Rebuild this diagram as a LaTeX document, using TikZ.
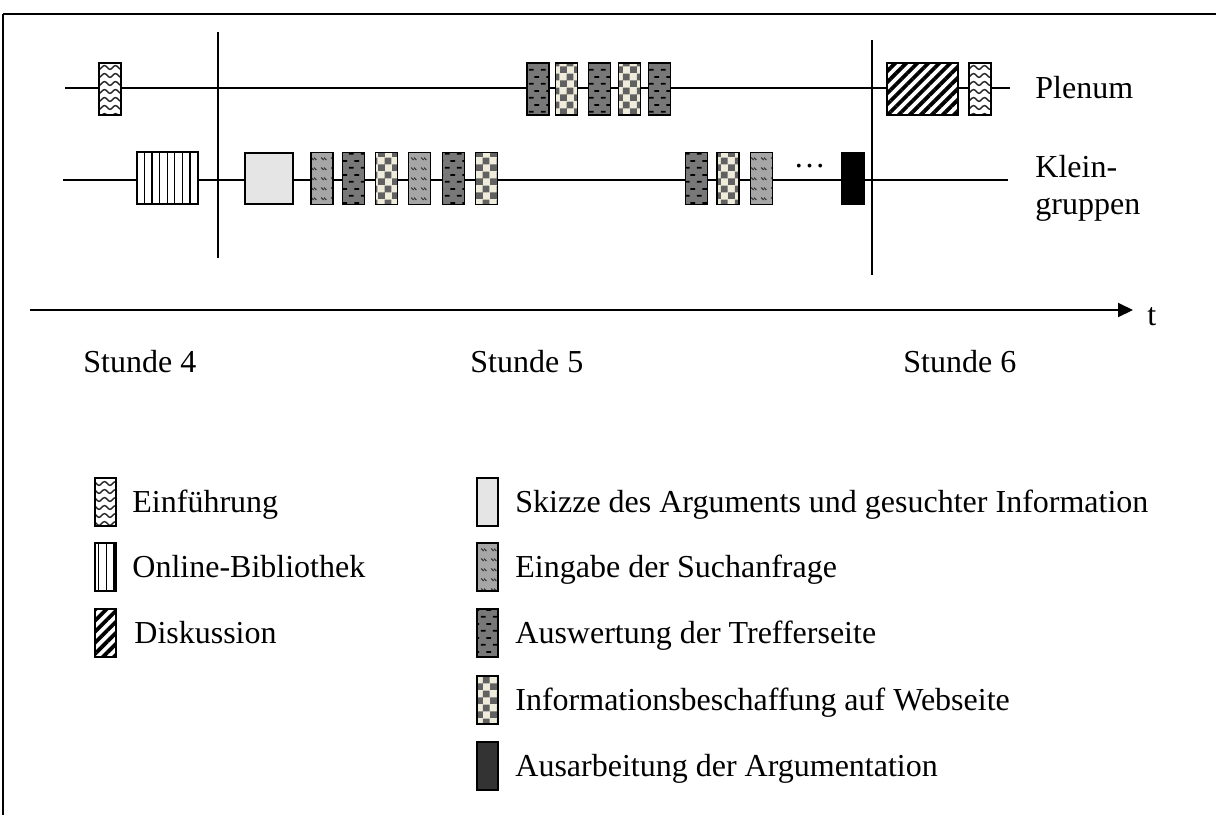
\documentclass[tikz,border=0pt]{standalone}
\usepackage{fontspec}
\setmainfont{Liberation Serif}
\usetikzlibrary{arrows.meta,patterns,patterns.meta}

\definecolor{checklight}{HTML}{F0ECDC}

% wavy lines for Einfuehrung
\pgfdeclarepatternformonly{einfwave}{\pgfqpoint{-1pt}{-1pt}}{\pgfqpoint{6.5pt}{5pt}}{\pgfqpoint{5.5pt}{4pt}}{%
  \pgfsetlinewidth{0.7pt}
  \pgfpathmoveto{\pgfqpoint{0pt}{0.8pt}}
  \pgfpathcurveto{\pgfqpoint{1pt}{0.8pt}}{\pgfqpoint{1.7pt}{2.7pt}}{\pgfqpoint{2.75pt}{2.7pt}}
  \pgfpathcurveto{\pgfqpoint{3.8pt}{2.7pt}}{\pgfqpoint{4.5pt}{0.8pt}}{\pgfqpoint{5.5pt}{0.8pt}}
  \pgfusepath{stroke}}
% checkerboard for Informationsbeschaffung
\pgfdeclarepatternformonly{infocheck}{\pgfqpoint{0pt}{0pt}}{\pgfqpoint{7pt}{7pt}}{\pgfqpoint{7pt}{7pt}}{%
  \pgfpathrectangle{\pgfqpoint{0pt}{0pt}}{\pgfqpoint{3.55pt}{3.55pt}}
  \pgfpathrectangle{\pgfqpoint{3.5pt}{3.5pt}}{\pgfqpoint{3.55pt}{3.55pt}}
  \pgfusepath{fill}}
% short dashes for Auswertung
\pgfdeclarepatternformonly{auswdash}{\pgfqpoint{0pt}{0pt}}{\pgfqpoint{6pt}{7pt}}{\pgfqpoint{6pt}{7pt}}{%
  \pgfsetlinewidth{0.9pt}
  \pgfpathmoveto{\pgfqpoint{0.4pt}{1.75pt}}\pgfpathlineto{\pgfqpoint{2.9pt}{1.75pt}}
  \pgfpathmoveto{\pgfqpoint{3.3pt}{5.25pt}}\pgfpathlineto{\pgfqpoint{5.8pt}{5.25pt}}
  \pgfusepath{stroke}}
% slanted dashes for Eingabe
\pgfdeclarepatternformonly{eingdash}{\pgfqpoint{0pt}{0pt}}{\pgfqpoint{5pt}{5pt}}{\pgfqpoint{5pt}{5pt}}{%
  \pgfsetlinewidth{0.55pt}
  \pgfpathmoveto{\pgfqpoint{0.6pt}{4pt}}\pgfpathlineto{\pgfqpoint{1.9pt}{2.7pt}}
  \pgfpathmoveto{\pgfqpoint{2.1pt}{4pt}}\pgfpathlineto{\pgfqpoint{3.4pt}{2.7pt}}
  \pgfusepath{stroke}}

\tikzset{
  box/.style={draw, line width=0.8pt, inner sep=0pt, minimum width=11pt, minimum height=26pt},
  legbox/.style={box, minimum width=10.5pt, minimum height=24pt},
  einf/.style={preaction={fill=white}, pattern=einfwave, pattern color=black!85},
  bibl/.style={preaction={fill=white}, pattern={Lines[angle=90,distance=3.8pt,line width=0.6pt]}},
  disk/.style={preaction={fill=white}, pattern={Lines[angle=45,distance=3.9pt,line width=1.9pt]}},
  skizze/.style={fill=gray!20},
  eing/.style={preaction={fill=black!35}, pattern=eingdash, pattern color=black!80},
  ausw/.style={preaction={fill=black!53}, pattern=auswdash, pattern color=black},
  info/.style={preaction={fill=checklight}, pattern=infocheck, pattern color=black!62},
  label/.style={anchor=base west, inner sep=0pt}
}

\begin{document}
\begin{tikzpicture}[x=0.5pt, y=-0.5pt, font=\fontsize{16}{18.5}\selectfont]
  \useasboundingbox (0,0) rectangle (1216,815);
  % frame
  \coordinate (fr0) at (3,14);
  \coordinate (fr1) at (1216,14);
  \coordinate (fr2) at (3,815);
  \draw[line width=1.1pt] (fr0) -- (fr1);
  \draw[line width=0.8pt] (fr0) -- (fr2);

  % time lines and breaks between the hours
  \coordinate (pl0) at (65,88);   \coordinate (pl1) at (1010,88);
  \coordinate (kg0) at (63,180);  \coordinate (kg1) at (1008,180);
  \coordinate (v1a) at (218,32);  \coordinate (v1b) at (218,258);
  \coordinate (v2a) at (872,40);  \coordinate (v2b) at (872,275);
  \draw[line width=1.3pt] (pl0) -- (pl1);
  \draw[line width=1.3pt] (kg0) -- (kg1);
  \draw[line width=1pt] (v1a) -- (v1b);
  \draw[line width=1pt] (v2a) -- (v2b);

  % Plenum
  \node[box, einf] (pe1) at (110,89) {};
  \node[box, ausw] (pa1) at (538,89) {};
  \node[box, info] (pi1) at (566.5,89) {};
  \node[box, ausw] (pa2) at (599.5,89) {};
  \node[box, info] (pi2) at (629.5,89) {};
  \node[box, ausw] (pa3) at (659.5,89) {};
  \node[box, disk, minimum width=35.5pt] (pd1) at (922.5,89) {};
  \node[box, einf] (pe2) at (980,89) {};
  \node[label] (plenum) at (1035,98) {Plenum};

  % Kleingruppen
  \node[box, bibl, minimum width=30.5pt] (kb1) at (167.5,178) {};
  \node[box, skizze, minimum width=24pt, minimum height=25.5pt] (ks1) at (269,178.5) {};
  \node[box, eing] (kg1) at (322,178.5) {};
  \node[box, ausw] (ka1) at (353.5,178.5) {};
  \node[box, info] (ki1) at (386.5,178.5) {};
  \node[box, eing] (kg2) at (419.5,178.5) {};
  \node[box, ausw] (ka2) at (453.5,178.5) {};
  \node[box, info] (ki2) at (486.5,178.5) {};
  \node[box, ausw] (ka3) at (696.5,178.5) {};
  \node[box, info] (ki3) at (728,178.5) {};
  \node[box, eing] (kg3) at (761.5,178.5) {};
  \node[anchor=base, inner sep=0pt] (dots) at (809.5,167) {…};
  \node[box, fill=black] (kr1) at (853,178.5) {};
  \node[label] (klein) at (1035,177) {Klein-};
  \node[label] (gruppen) at (1035,214) {gruppen};

  % time axis
  \coordinate (ax0) at (30,310);
  \coordinate (ax1) at (1133,310);
  \draw[line width=1pt, -{Triangle[length=7.5pt,width=7pt]}] (ax0) -- (ax1);
  \node[label] (t) at (1147,325) {t};
  \node[label] (st4) at (83,372) {Stunde 4};
  \node[label] (st5) at (470,372) {Stunde 5};
  \node[label] (st6) at (903,372) {Stunde 6};

  % legend, left column
  \node[legbox, einf] (le1) at (105.5,502) {};
  \node[legbox, bibl] (le2) at (105.5,567) {};
  \node[legbox, disk] (le3) at (105.5,633) {};
  \node[label] at (132,512) {Einführung};
  \node[label] at (132,577) {Online-Bibliothek};
  \node[label] at (134,643) {Diskussion};

  % legend, right column
  \node[legbox, skizze] (lr1) at (487.5,502) {};
  \node[legbox, eing] (lr2) at (487.5,567) {};
  \node[legbox, ausw] (lr3) at (487.5,633) {};
  \node[legbox, info] (lr4) at (487.5,700) {};
  \node[legbox, fill=black!80] (lr5) at (487.5,766) {};
  \node[label] at (515,512) {Skizze des Arguments und gesuchter Information};
  \node[label] at (515,577) {Eingabe der Suchanfrage};
  \node[label] at (515,643) {Auswertung der Trefferseite};
  \node[label] at (515,710) {Informationsbeschaffung auf Webseite};
  \node[label] at (515,776) {Ausarbeitung der Argumentation};
\end{tikzpicture}
\end{document}
